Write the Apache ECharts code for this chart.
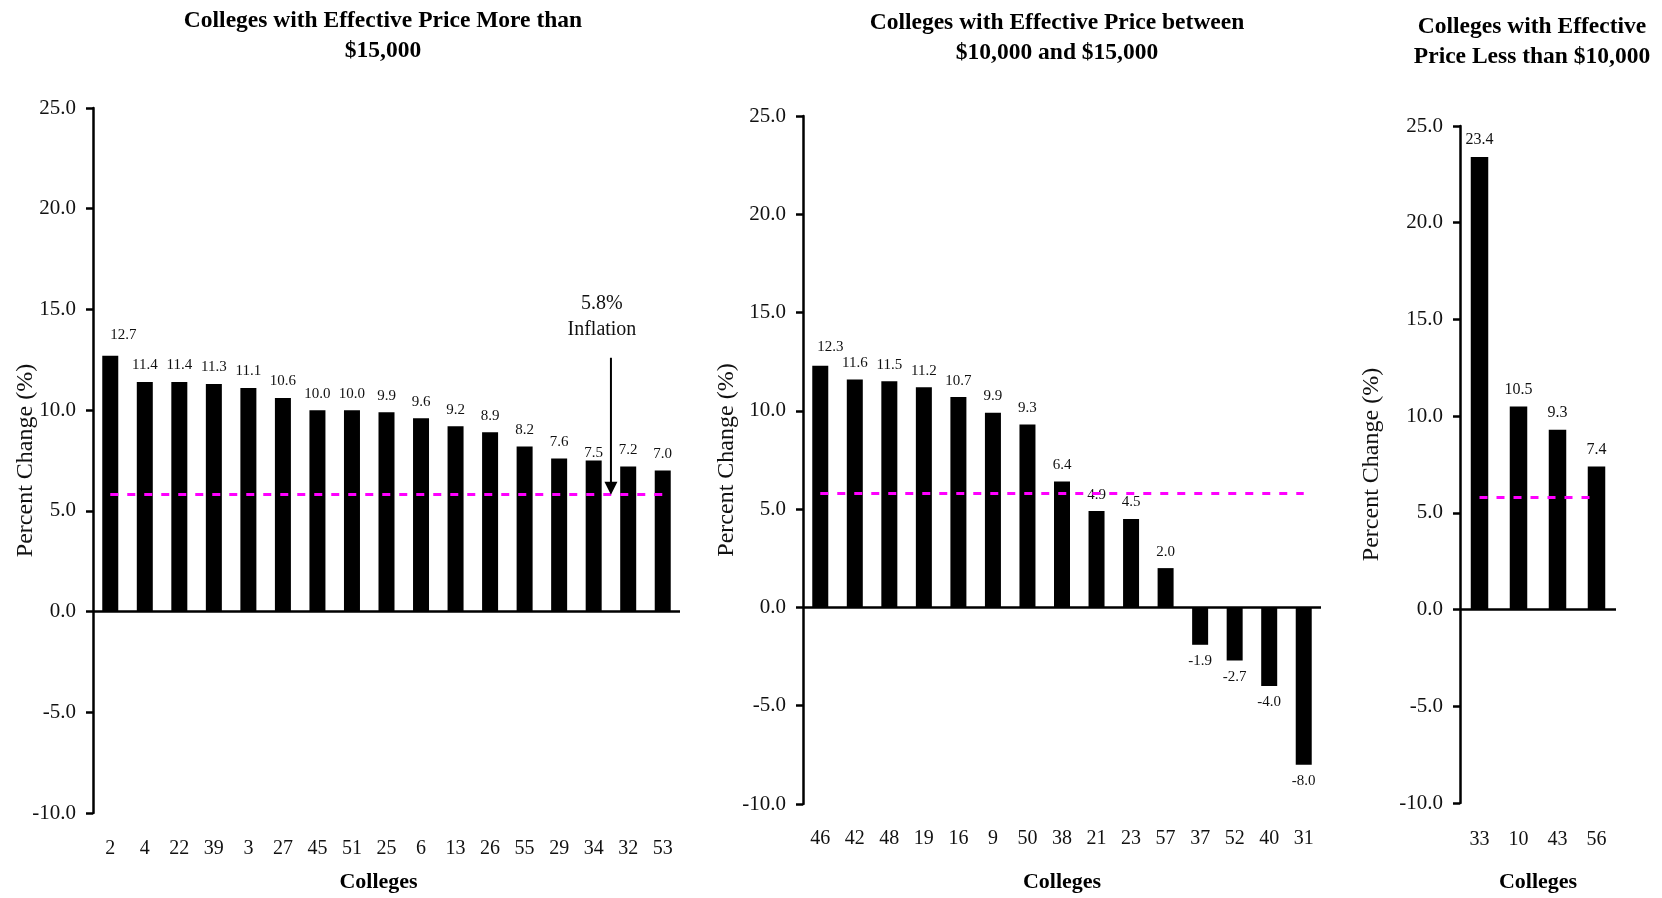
<!DOCTYPE html>
<html>
<head>
<meta charset="utf-8">
<title>Percent Change in Effective Price by College</title>
<script src="https://cdn.jsdelivr.net/npm/echarts@6/dist/echarts.min.js"></script>
<style>
  html, body { margin: 0; padding: 0; background: #ffffff; }
  #chart { width: 1662px; height: 898px; }
</style>
</head>
<body>
<div id="chart"></div>
<script>
// Inflation benchmark over the period (%)
const INFLATION = 5.8;
// Where the inflation arrow starts (value on the y axis)
const ARROW_FROM = 12.6;

// Colleges with effective price more than $15,000
const highCats = ['2', '4', '22', '39', '3', '27', '45', '51', '25', '6', '13', '26', '55', '29', '34', '32', '53'];
const highVals = [12.7, 11.4, 11.4, 11.3, 11.1, 10.6, 10.0, 10.0, 9.9, 9.6, 9.2, 8.9, 8.2, 7.6, 7.5, 7.2, 7.0];

// Colleges with effective price between $10,000 and $15,000
const midCats = ['46', '42', '48', '19', '16', '9', '50', '38', '21', '23', '57', '37', '52', '40', '31'];
const midVals = [12.3, 11.6, 11.5, 11.2, 10.7, 9.9, 9.3, 6.4, 4.9, 4.5, 2.0, -1.9, -2.7, -4.0, -8.0];

// Colleges with effective price less than $10,000
const lowCats = ['33', '10', '43', '56'];
const lowVals = [23.4, 10.5, 9.3, 7.4];

// Value axis range shared by all three panels
const Y_MIN = -10;
const Y_MAX = 25;
const Y_STEP = 5;

const panelTitles = [
  'Colleges with Effective Price More than\n$15,000',
  'Colleges with Effective Price between\n$10,000 and $15,000',
  'Colleges with Effective\nPrice Less than $10,000'
];
const yName = 'Percent Change (%)';
const xName = 'Colleges';

const FONT = '"Liberation Serif", "Times New Roman", serif';
const INK = '#111111';

// Panel layout
const grids = [
  { left: 93, top: 108, width: 587, height: 705 },
  { left: 803, top: 116, width: 518, height: 689 },
  { left: 1460, top: 126, width: 156, height: 682 }
];
const titlePos = [
  { left: 378, top: 1 },
  { left: 1052, top: 3 },
  { left: 1527, top: 7 }
];
const barWidths = [16, 16, 17.5];
const yNameGaps = [55, 64, 76];
const xNameGaps = [58, 67, 68];
const xLabelMargins = [26, 25, 27];
const labelSizes = [15, 15, 16];
// Hand-placed label nudges (index -> [dx, dy])
const labelNudges = [
  { 0: [13, -4], 14: [0, 9] },
  { 0: [10, -2] },
  {}
];

const panels = [
  { cats: highCats, vals: highVals },
  { cats: midCats, vals: midVals },
  { cats: lowCats, vals: lowVals }
];

const chart = echarts.init(document.getElementById('chart'), null, { renderer: 'canvas' });

const option = {
  animation: false,
  backgroundColor: '#ffffff',
  title: panelTitles.map((t, i) => ({
    text: t,
    left: titlePos[i].left,
    top: titlePos[i].top,
    textAlign: 'center',
    textStyle: {
      fontFamily: FONT,
      fontSize: 23.5,
      fontWeight: 'bold',
      color: '#000',
      lineHeight: 30
    }
  })),
  grid: grids.map(g => Object.assign({ containLabel: false }, g)),
  xAxis: panels.map((p, i) => ({
    gridIndex: i,
    type: 'category',
    data: p.cats,
    axisLine: { show: false, onZero: false },
    axisTick: { show: false },
    splitLine: { show: false },
    axisLabel: {
      interval: 0,
      margin: xLabelMargins[i],
      fontFamily: FONT,
      fontSize: 20,
      color: INK
    },
    name: xName,
    nameLocation: 'middle',
    nameGap: xNameGaps[i],
    nameMoveOverlap: false,
    nameTextStyle: {
      fontFamily: FONT,
      fontSize: 22,
      fontWeight: 'bold',
      color: '#000',
      padding: i === 0 ? [0, 16, 0, 0] : 0
    }
  })),
  yAxis: panels.map((p, i) => ({
    gridIndex: i,
    type: 'value',
    min: Y_MIN,
    max: Y_MAX,
    interval: Y_STEP,
    axisLine: { show: true, onZero: false, lineStyle: { color: '#000', width: 2.5 } },
    axisTick: { show: true, length: 7, lineStyle: { color: '#000', width: 2.5 } },
    splitLine: { show: false },
    axisLabel: {
      margin: 17,
      fontFamily: FONT,
      fontSize: 21,
      color: INK,
      formatter: v => v.toFixed(1)
    },
    name: yName,
    nameLocation: 'middle',
    nameGap: yNameGaps[i],
    nameMoveOverlap: false,
    nameTextStyle: { fontFamily: FONT, fontSize: 24, color: INK }
  })),
  series: panels.map((p, i) => ({
    type: 'bar',
    xAxisIndex: i,
    yAxisIndex: i,
    barWidth: barWidths[i],
    itemStyle: { color: '#000' },
    label: {
      show: true,
      fontFamily: FONT,
      fontSize: labelSizes[i],
      color: INK,
      distance: 9,
      formatter: d => d.value.toFixed(1)
    },
    data: p.vals.map((v, k) => ({
      value: v,
      label: {
        position: v < 0 ? 'bottom' : 'top',
        offset: labelNudges[i][k] || [0, 0]
      }
    })),
    markLine: {
      silent: true,
      animation: false,
      symbol: 'none',
      label: { show: false },
      data: [
        // zero baseline across the panel
        { yAxis: 0, lineStyle: { color: '#000', width: 2.5, type: 'solid' } },
        // inflation reference, first to last college
        [
          { coord: [p.cats[0], INFLATION], lineStyle: { color: '#ff00ff', width: 3, type: [8, 9] } },
          { coord: [p.cats[p.cats.length - 1], INFLATION] }
        ]
      ]
    }
  }))
};

chart.setOption(option);

// Inflation call-out in the first panel, placed between colleges 34 and 32
const xa = chart.convertToPixel({ xAxisIndex: 0 }, highCats[14]);
const xb = chart.convertToPixel({ xAxisIndex: 0 }, highCats[15]);
const xm = (xa + xb) / 2;
const yTip = chart.convertToPixel({ yAxisIndex: 0 }, INFLATION);
const yTop = chart.convertToPixel({ yAxisIndex: 0 }, ARROW_FROM);

chart.setOption({
  graphic: [
    {
      type: 'line',
      silent: true,
      z: 10,
      shape: { x1: xm, y1: yTop, x2: xm, y2: yTip - 10 },
      style: { stroke: '#000', lineWidth: 2 }
    },
    {
      type: 'polygon',
      silent: true,
      z: 10,
      shape: { points: [[xm - 6.5, yTip - 13], [xm + 6.5, yTip - 13], [xm, yTip]] },
      style: { fill: '#000' }
    },
    {
      type: 'text',
      silent: true,
      z: 10,
      x: xm - 9,
      y: yTop - 67,
      style: {
        text: INFLATION.toFixed(1) + '%\nInflation',
        font: '20px ' + FONT,
        fill: INK,
        align: 'center',
        verticalAlign: 'top',
        lineHeight: 26
      }
    }
  ]
});
</script>
</body>
</html>
